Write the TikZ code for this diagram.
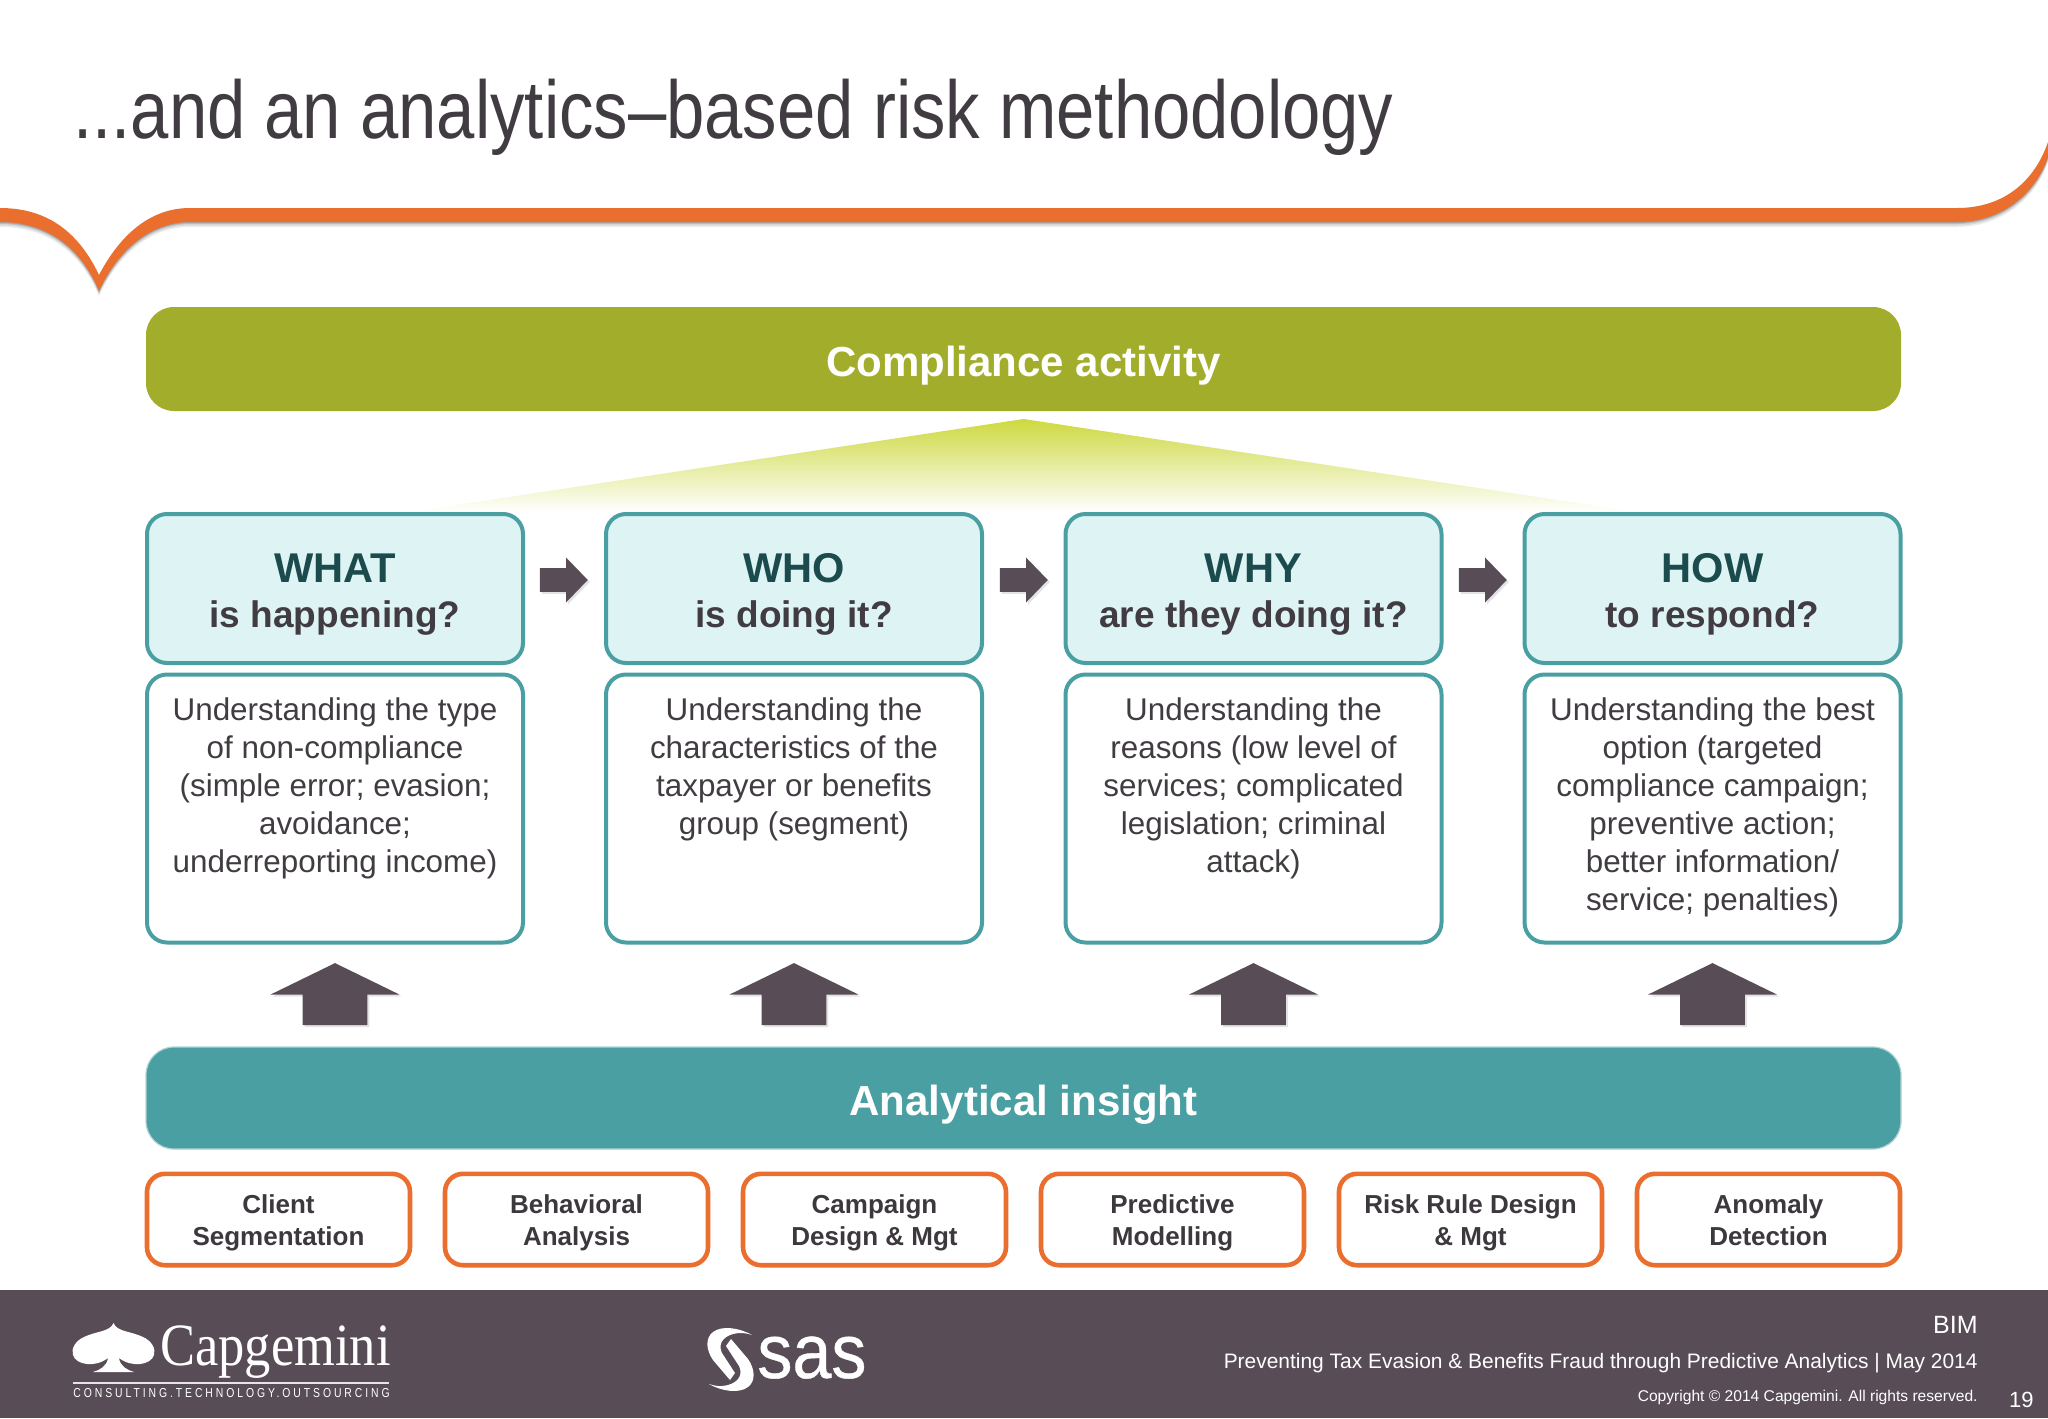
\documentclass[tikz,border=0pt]{standalone}
\usepackage{fontspec}
\setmainfont{Liberation Sans}
\newfontfamily\titlefont[FakeStretch=0.8395]{Liberation Sans}
\newfontfamily\logofont[FakeStretch=0.875]{Liberation Serif}
\newfontfamily\tagfont[FakeStretch=0.8,LetterSpace=22.5]{Liberation Sans}
\newfontfamily\sasfont[FakeStretch=0.91,FakeBold=0.5]{Liberation Sans}
\usetikzlibrary{positioning,shapes.arrows,shadows}

\definecolor{footgrey}{HTML}{584C56}
\definecolor{swoosh}{HTML}{EA6E2E}
\definecolor{leaf}{HTML}{A2AD2B}
\definecolor{sprout}{HTML}{CDD93F}
\definecolor{teal}{HTML}{4A9FA2}
\definecolor{paleteal}{HTML}{DEF3F3}
\definecolor{deepteal}{HTML}{1C4B4D}
\definecolor{inktext}{HTML}{413C41}
\definecolor{boxtext}{HTML}{3D383D}

\def\swooshpath{(0,208) .. controls (50,208) and (80,235) .. (99,275)
  .. controls (120,235) and (150,208) .. (190,208) -- (1957,208)
  .. controls (2005,208) and (2035,180) .. (2048,142) -- (2048,157)
  .. controls (2035,195) and (2000,222) .. (1957,222) -- (190,222)
  .. controls (150,222) and (118,250) .. (99,291) .. controls (82,250) and (50,222) .. (0,222) -- cycle}
\def\sashook{(752,1335) .. controls (740,1328) and (722,1325) .. (713,1332)
  .. controls (705,1338) and (706,1350) .. (713,1360) -- (730,1380) -- (735,1373) -- (722,1353)
  .. controls (718,1345) and (722,1337) .. (733,1334) .. controls (740,1332) and (746,1333) .. (752,1335) -- cycle}

\tikzset{
  bar/.style={rounded corners=14pt,minimum width=877.5pt,minimum height=52pt,inner sep=0pt,
    text height=17.2pt,text depth=0pt,text=white,font=\fontsize{21}{24}\selectfont\bfseries},
  headbox/.style={draw=teal,line width=2pt,fill=paleteal,rounded corners=10pt,minimum width=188pt,
    minimum height=74.5pt,inner sep=0pt,align=center,text=inktext,text height=39pt,text depth=0pt,
    font=\fontsize{18.5}{22.5}\selectfont\bfseries},
  bodybox/.style={draw=teal,line width=2pt,fill=white,rounded corners=10pt,minimum width=188pt,
    minimum height=134pt,inner sep=0pt},
  bodytext/.style={anchor=north,inner sep=0pt,align=center,text=inktext,
    font=\fontsize{15.7}{19}\selectfont},
  toolbox/.style={draw=swoosh,line width=2.3pt,fill=white,rounded corners=9pt,minimum width=131.5pt,
    minimum height=45.7pt,inner sep=0pt,align=center,text=boxtext,text height=26pt,text depth=0pt,
    font=\fontsize{13}{16}\selectfont\bfseries},
  uparrow/.style={single arrow,rotate=90,fill=footgrey,minimum height=31pt,
    single arrow tip angle=128,single arrow head extend=16pt,single arrow head indent=0pt,
    inner xsep=0pt,inner ysep=16pt,drop shadow={opacity=.22,shadow xshift=1pt,shadow yshift=-1pt}},
  nextarrow/.style={single arrow,fill=footgrey,minimum height=24pt,
    single arrow tip angle=92,single arrow head extend=5.25pt,single arrow head indent=0pt,
    inner xsep=0pt,inner ysep=5.75pt,drop shadow={opacity=.22,shadow xshift=1pt,shadow yshift=-1pt}},
  foot/.style={inner sep=0pt,text=white}
}

\begin{document}
\begin{tikzpicture}[x=.5pt,y=-.5pt]
  \useasboundingbox (0,0) rectangle (2048,1418);

  % page furniture
  \fill[footgrey] (0,1290) rectangle (2048,1418);
  \foreach \d/\o in {5/.07,3.5/.09,2/.12,1/.15}
    \fill[black,opacity=\o,shift={(0,\d)}] \swooshpath;
  \fill[swoosh] \swooshpath;

  \node[anchor=base west,inner sep=0pt,text=inktext,font=\fontsize{41}{48}\titlefont] (title) at (73,138)
    {...and an analytics–based risk methodology};

  % top and bottom bars
  \node[bar,fill=leaf] (compliance) at (1023.5,359) {Compliance activity};
  \shade[top color=sprout,bottom color=white] (1023.5,419) -- (1637,512) -- (410,512) -- cycle;
  \node[bar,fill=teal,draw=teal!45,line width=.6pt,minimum height=51pt] (insight) at (1023.5,1098) {Analytical insight};

  % four columns
  \foreach \nm/\cx/\hd/\sub/\txt in {
    what/335/WHAT/is happening?/{Understanding the type\\of non-compliance\\(simple error; evasion;\\avoidance;\\underreporting income)},
    who/794/WHO/is doing it?/{Understanding the\\characteristics of the\\taxpayer or benefits\\group (segment)},
    why/1253.5/WHY/are they doing it?/{Understanding the\\reasons (low level of\\services; complicated\\legislation; criminal\\attack)},
    how/1712.5/HOW/to respond?/{Understanding the best\\option (targeted\\compliance campaign;\\preventive action;\\better information/\\service; penalties)}}{
    \node[headbox] (\nm head) at (\cx,588.5) {{\color{deepteal}\fontsize{20.8}{22.5}\selectfont \hd}\\\sub};
    \node[bodybox] (\nm body) at (\cx,808.5) {};
    \node[bodytext] (\nm text) at ([yshift=-12.5pt]\nm body.north) {\txt};
    \node[uparrow] (\nm up) at (\cx,1002) {};
  }

  \node[nextarrow] (whatnext) at (558,580) {};
  \node[nextarrow] (whonext) at (1018,580) {};
  \node[nextarrow] (whynext) at (1477,580) {};

  % row of techniques
  \node[toolbox] (client) at (278.5,1219.5) {Client\\Segmentation};
  \node[toolbox,right=15.2pt of client] (behavior) {Behavioral\\Analysis};
  \node[toolbox,right=15.2pt of behavior] (campaign) {Campaign\\Design \& Mgt};
  \node[toolbox,right=15.2pt of campaign] (predict) {Predictive\\Modelling};
  \node[toolbox,right=15.2pt of predict] (rule) {Risk Rule Design\\\& Mgt};
  \node[toolbox,right=15.2pt of rule] (anomaly) {Anomaly\\Detection};

  % footer logos
  \fill[white] (113.5,1323) .. controls (117,1332) and (131,1331) .. (143,1337)
    .. controls (152,1341) and (156,1349) .. (154,1355) .. controls (151,1365) and (132,1368) .. (119,1358)
    .. controls (120,1366) and (127,1370) .. (134,1372) -- (93,1372)
    .. controls (100,1370) and (107,1366) .. (108,1358) .. controls (95,1368) and (76,1365) .. (73,1355)
    .. controls (71,1349) and (75,1341) .. (84,1337) .. controls (96,1331) and (110,1332) .. (113.5,1323) -- cycle;
  \node[foot,anchor=base west,font=\fontsize{30}{30}\logofont] (capgemini) at (160,1365) {Capgemini};
  \fill[white,opacity=.85] (73,1382) rectangle (389,1384);
  \node[foot,anchor=base west,font=\fontsize{6.5}{8}\tagfont] (tagline) at (73,1397) {CONSULTING.TECHNOLOGY.OUTSOURCING};

  \fill[white] \sashook;
  \fill[white,rotate around={180:(730.5,1359.5)}] \sashook;
  \node[foot,anchor=base west,font=\fontsize{38.5}{40}\sasfont] (sas) at (757,1378) {sas};

  \node[foot,anchor=base east,font=\fontsize{12.5}{14}\selectfont] (bim) at (1978,1333) {BIM};
  \node[foot,anchor=base east,font=\fontsize{10.47}{14}\selectfont] (event) at (1978,1368) {Preventing Tax Evasion \& Benefits Fraud through Predictive Analytics | May 2014};
  \node[foot,anchor=base east,font=\fontsize{7.8}{10}\selectfont] (copy) at (1978,1401) {Copyright © 2014 Capgemini. All rights reserved.};
  \node[foot,anchor=base east,font=\fontsize{11}{12}\selectfont] (page) at (2034,1407) {19};
\end{tikzpicture}
\end{document}
